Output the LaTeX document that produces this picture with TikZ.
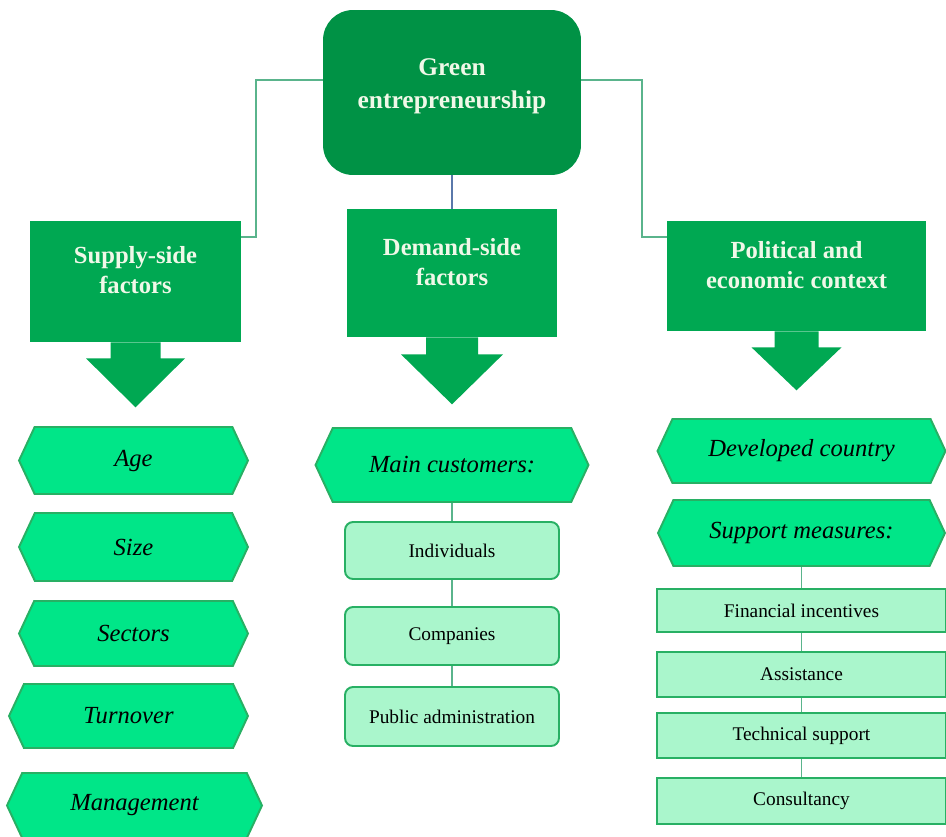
\documentclass[tikz,border=0pt]{standalone}
\usepackage{fontspec}
\setmainfont{Liberation Serif}
\usetikzlibrary{shapes.symbols}

\definecolor{coregreen}{RGB}{0,146,69}
\definecolor{factorgreen}{RGB}{0,168,82}
\definecolor{itemgreen}{RGB}{0,230,136}
\definecolor{itemline}{RGB}{40,176,100}
\definecolor{subgreen}{RGB}{170,246,204}
\definecolor{linkgreen}{RGB}{90,180,140}
\definecolor{linkblue}{RGB}{90,120,170}
\definecolor{palewhite}{RGB}{240,248,232}

\begin{document}
\begin{tikzpicture}[
    x=0.02cm, y=-0.02cm,
    core/.style={rectangle, rounded corners=0.6cm, fill=coregreen, text=palewhite, align=center, font=\bfseries\fontsize{14.5}{19}\selectfont, minimum width=5.16cm, minimum height=3.3cm, text depth=10.5pt},
    factor/.style={rectangle, fill=factorgreen, text=palewhite, align=center, font=\bfseries\fontsize{14}{17}\selectfont, text depth=13pt},
    push/.style={fill=factorgreen},
    item/.style={signal, signal to=west and east, signal pointer angle=130, draw=itemline, line width=1.1pt, fill=itemgreen, font=\itshape\fontsize{14}{17}\selectfont, inner sep=0pt},
    sub/.style={rectangle, draw=itemline, line width=1.1pt, fill=subgreen, font=\fontsize{11}{13}\selectfont},
    roundsub/.style={sub, rounded corners=0.16cm},
    link/.style={draw=linkgreen, line width=0.7pt}
]
\useasboundingbox (0,0) rectangle (946,836);

% Top
\node[core] (green) at (452,92.5) {Green\\entrepreneurship};

% Factors
\node[factor, minimum width=4.22cm, minimum height=2.42cm] (supply) at (135.5,281.5) {Supply-side\\factors};
\node[factor, minimum width=4.2cm, minimum height=2.56cm] (demand) at (452,273) {Demand-side\\factors};
\node[factor, minimum width=5.18cm, minimum height=2.2cm] (context) at (796.5,276) {Political and\\economic context};

% Links from the top
\coordinate (leftbend) at (256,237);
\coordinate (rightbend) at (642,237);
\draw[link] ([yshift=0.25cm]green.west) -| (leftbend) -- (supply.east |- leftbend);
\draw[link] ([yshift=0.25cm]green.east) -| (rightbend) -- (context.west |- rightbend);
\draw[link, draw=linkblue] (green.south) -- (demand.north);

% Block arrows
\fill[push] (supply.south) ++(-25,0) -- ++(50,0) -- ++(0,16) -- ++(24.5,0) -- ++(-49.5,49) -- ++(-49.5,-49) -- ++(24.5,0) -- cycle;
\fill[push] (demand.south) ++(-26,0) -- ++(52,0) -- ++(0,17) -- ++(25,0) -- ++(-51,50) -- ++(-51,-50) -- ++(25,0) -- cycle;
\fill[push] (context.south) ++(-22,0) -- ++(44,0) -- ++(0,16) -- ++(23,0) -- ++(-45,43) -- ++(-45,-43) -- ++(23,0) -- cycle;

% Supply side
\node[item, minimum width=4.58cm, minimum height=1.34cm] (age) at (133.5,460.5) {Age};
\node[item, minimum width=4.58cm, minimum height=1.36cm] (size) at (133.5,547) {Size};
\node[item, minimum width=4.58cm, minimum height=1.3cm] (sectors) at (133.5,633.5) {Sectors};
\node[item, minimum width=4.78cm, minimum height=1.28cm] (turnover) at (128.5,716) {Turnover};
\node[item, minimum width=5.1cm, minimum height=1.3cm] (management) at (134.5,805.5) {Management};

% Demand side
\node[item, minimum width=5.46cm, minimum height=1.48cm] (customers) at (452,465) {Main customers:};
\node[roundsub, minimum width=4.28cm, minimum height=1.14cm] (individuals) at (452,550.5) {Individuals};
\node[roundsub, minimum width=4.28cm, minimum height=1.16cm] (companies) at (452,636) {Companies};
\node[roundsub, minimum width=4.28cm, minimum height=1.18cm] (public) at (452,716.5) {Public administration};
\draw[link] (customers.south) -- (individuals.north);
\draw[link] (individuals) -- (companies);
\draw[link] (companies) -- (public);

% Context
\node[item, minimum width=5.76cm, minimum height=1.28cm] (developed) at (801.5,451) {Developed country};
\node[item, minimum width=5.74cm, minimum height=1.32cm] (measures) at (801.5,533) {Support measures:};
\node[sub, minimum width=5.78cm, minimum height=0.86cm] (financial) at (801.5,610.5) {Financial incentives};
\node[sub, minimum width=5.78cm, minimum height=0.9cm] (assistance) at (801.5,674.5) {Assistance};
\node[sub, minimum width=5.78cm, minimum height=0.9cm] (technical) at (801.5,735.5) {Technical support};
\node[sub, minimum width=5.78cm, minimum height=0.92cm] (consultancy) at (801.5,801) {Consultancy};
\draw[link] (measures.south) -- (financial.north);
\draw[link] (financial) -- (assistance);
\draw[link] (assistance) -- (technical);
\draw[link] (technical) -- (consultancy);

\end{tikzpicture}
\end{document}
